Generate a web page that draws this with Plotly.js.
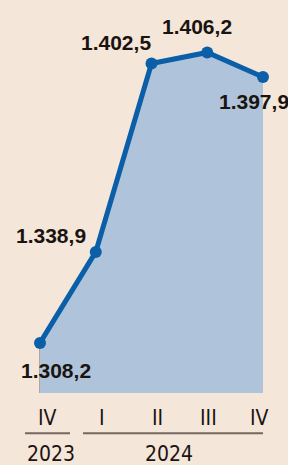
<!DOCTYPE html>
<html><head><meta charset="utf-8">
<script src="https://cdn.plot.ly/plotly-3.0.1.min.js"></script>
<style>html,body{margin:0;padding:0;background:#f5e6da;}#chart{width:288px;height:465px;}</style>
</head><body><div id="chart"></div>
<script>
var quarters = ["IV 2023", "I 2024", "II 2024", "III 2024", "IV 2024"];
var values = [1308.2, 1338.9, 1402.5, 1406.2, 1397.9];
var valueLabels = ["1.308,2", "1.338,9", "1.402,5", "1.406,2", "1.397,9"];
var tickLabels = ["IV", "I", "II", "III", "IV"];
var years = ["2023", "2024"];

var idx = values.map(function(v, i){ return i; });
var yMin = 1291.3, yMax = 1423.9;
var W = 288, plotH = 393;

// label offsets (px) relative to points
var offs = [[16, -28], [-45, 16], [-36, 21], [-10, 26], [-9, -24]];
var tickPx = [47, 102, 157, 208, 259];

var annotations = [];
values.forEach(function(v, i){
  annotations.push({x: i, y: v, xref: 'x', yref: 'y', text: valueLabels[i], showarrow: false,
    xshift: offs[i][0], yshift: offs[i][1],
    font: {family: 'Liberation Sans, Arial, sans-serif', size: 21, color: '#1a1410', weight: 'bold'}});
});
tickLabels.forEach(function(t, i){
  annotations.push({x: tickPx[i] / W, y: (plotH - 417.7) / plotH, xref: 'paper', yref: 'paper', text: t,
    showarrow: false, xanchor: 'center', yanchor: 'middle',
    font: {family: 'DejaVu Sans Condensed, DejaVu Sans, sans-serif', size: 21, color: '#1a1410'}});
});
var yearPx = [51, 168.5];
years.forEach(function(t, i){
  annotations.push({x: yearPx[i] / W, y: (plotH - 454) / plotH, xref: 'paper', yref: 'paper', text: t,
    showarrow: false, xanchor: 'center', yanchor: 'middle',
    font: {family: 'DejaVu Sans Condensed, DejaVu Sans, sans-serif', size: 21, color: '#1a1410'}});
});

var shapes = [];
for (var i = 0; i < values.length - 1; i++) {
  shapes.push({type: 'line', xref: 'x', yref: 'y', x0: idx[i], x1: idx[i], y0: yMin, y1: values[i],
    line: {color: '#9c9089', width: 1.5}, layer: 'below'});
}
var rules = [[25, 70], [83, 263]];
rules.forEach(function(r){
  shapes.push({type: 'line', xref: 'paper', yref: 'paper', x0: r[0] / W, x1: r[1] / W,
    y0: (plotH - 433.3) / plotH, y1: (plotH - 433.3) / plotH, line: {color: '#75675e', width: 2}});
});

var trace = {
  x: idx, y: values, type: 'scatter', mode: 'lines+markers',
  fill: 'tozeroy', fillcolor: '#afc3da',
  line: {color: '#0b5fa8', width: 5},
  marker: {color: '#0b5fa8', size: 12},
  hoverinfo: 'skip', cliponaxis: false
};

var layout = {
  width: 288, height: 465,
  margin: {l: 0, r: 0, t: 0, b: 72, pad: 0},
  paper_bgcolor: '#f5e6da', plot_bgcolor: '#f5e6da',
  showlegend: false,
  xaxis: {range: [-40 / 55.75, 248 / 55.75], showgrid: false, zeroline: false, showticklabels: false, showline: false, fixedrange: true},
  yaxis: {range: [yMin, yMax], showgrid: false, zeroline: false, showticklabels: false, showline: false, fixedrange: true},
  annotations: annotations,
  shapes: shapes
};

Plotly.newPlot('chart', [trace], layout, {displayModeBar: false, staticPlot: true});
</script></body></html>
